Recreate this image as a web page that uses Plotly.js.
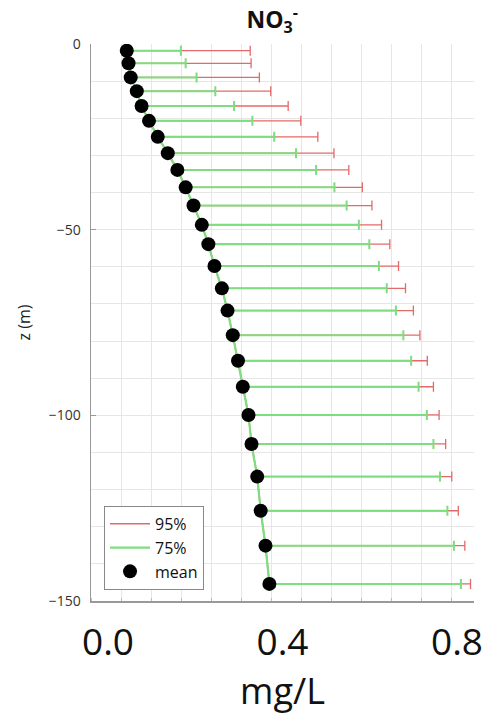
<!DOCTYPE html>
<html>
<head>
<meta charset="utf-8">
<script src="https://cdn.plot.ly/plotly-3.0.1.min.js"></script>
<style>html,body{margin:0;padding:0;background:#fff}#chart{width:486px;height:716px}</style>
</head>
<body>
<div id="chart"></div>
<script>
// depth (m)
const depth = [-1.8, -5.2, -9.0, -12.7, -16.7, -20.7, -25.0, -29.4, -33.9, -38.6,
  -43.5, -48.7, -53.9, -59.8, -65.8, -71.8, -78.4, -85.3, -92.3, -99.9,
  -107.7, -116.5, -125.7, -135.1, -145.4];
// mean concentration (mg/L)
const meanVal = [0.043, 0.047, 0.052, 0.066, 0.077, 0.094, 0.114, 0.137, 0.159, 0.178,
  0.196, 0.215, 0.230, 0.244, 0.261, 0.274, 0.286, 0.298, 0.309, 0.322,
  0.329, 0.342, 0.350, 0.361, 0.370];
// upper bound of 75% interval
const upper75 = [0.167, 0.178, 0.203, 0.246, 0.289, 0.331, 0.381, 0.431, 0.477, 0.519,
  0.547, 0.575, 0.599, 0.621, 0.639, 0.660, 0.677, 0.695, 0.712, 0.731,
  0.746, 0.761, 0.778, 0.793, 0.809];
// upper bound of 95% interval
const upper95 = [0.326, 0.328, 0.347, 0.373, 0.413, 0.442, 0.481, 0.518, 0.552, 0.583,
  0.605, 0.627, 0.646, 0.666, 0.682, 0.700, 0.715, 0.732, 0.746, 0.759,
  0.774, 0.788, 0.803, 0.818, 0.831];
const xTicks = [0.0, 0.4, 0.8];
const xTickText = ['0.0', '0.4', '0.8'];
const yTicks = [0, -50, -100, -150];

const red = '#e36a6a';
const green = '#7fdc7f';
const plus95 = upper95.map((v, i) => v - meanVal[i]);
const plus75 = upper75.map((v, i) => v - meanVal[i]);
const zeros = meanVal.map(() => 0);

const traces = [
  {
    name: '95%', x: meanVal, y: depth, type: 'scatter', mode: 'lines',
    line: {color: red, width: 1.5},
    error_x: {type: 'data', symmetric: false, array: plus95, arrayminus: zeros,
      color: red, thickness: 1.3, width: 5}
  },
  {
    name: '75%', x: meanVal, y: depth, type: 'scatter', mode: 'lines',
    line: {color: green, width: 2.2},
    error_x: {type: 'data', symmetric: false, array: plus75, arrayminus: zeros,
      color: green, thickness: 2, width: 5}
  },
  {
    name: 'mean', x: meanVal, y: depth, type: 'scatter', mode: 'markers',
    marker: {color: '#000', size: 14}
  }
];

const layout = {
  width: 486, height: 716,
  margin: {l: 91, r: 12, t: 44, b: 115},
  paper_bgcolor: '#fff', plot_bgcolor: '#fff',
  font: {family: 'Open Sans, sans-serif', color: '#333'},
  showlegend: true,
  title: {
    text: '<b>NO<sub>3</sub><sup>-</sup></b>',
    font: {family: 'Open Sans, sans-serif', size: 23, color: '#111'},
    x: 0.56, xanchor: 'center', y: 0.972, yanchor: 'middle'
  },
  xaxis: {
    range: [-0.039, 0.839],
    tickvals: xTicks, ticktext: xTickText,
    tickfont: {family: 'Open Sans, sans-serif', size: 37, color: '#111'},
    ticks: '', ticklabelstandoff: 8,
    showgrid: false, zeroline: false,
    showline: true, linecolor: '#999', linewidth: 1.5,
    minor: {tick0: 0.0314, dtick: 0.06877, showgrid: true, gridcolor: '#e6e6e6',
      gridwidth: 1, ticks: 'inside', ticklen: 3, tickcolor: '#bbb'},
    title: {text: 'mg/L', font: {family: 'Open Sans, sans-serif', size: 36, color: '#111'}, standoff: 4}
  },
  yaxis: {
    range: [-150, 0],
    tickvals: yTicks,
    tickfont: {family: 'Open Sans, sans-serif', size: 14, color: '#333'},
    ticks: 'inside', ticklen: 5, tickcolor: '#999', ticklabelstandoff: 6,
    showgrid: true, gridcolor: '#e6e6e6', zeroline: false,
    showline: true, linecolor: '#999', linewidth: 1.5,
    minor: {dtick: 10, showgrid: true, gridcolor: '#e6e6e6', gridwidth: 1},
    title: {text: 'z (m)', font: {family: 'Open Sans, sans-serif', size: 16, color: '#222'}, standoff: 14}
  },
  legend: {
    x: 0.034, y: 0.02, xanchor: 'left', yanchor: 'bottom',
    bgcolor: '#fff', bordercolor: '#888', borderwidth: 1,
    font: {family: 'Open Sans, sans-serif', size: 16, color: '#111'},
    tracegroupgap: 0, itemwidth: 40
  }
};

Plotly.newPlot('chart', traces, layout, {displayModeBar: false, staticPlot: true});
</script>
</body>
</html>
